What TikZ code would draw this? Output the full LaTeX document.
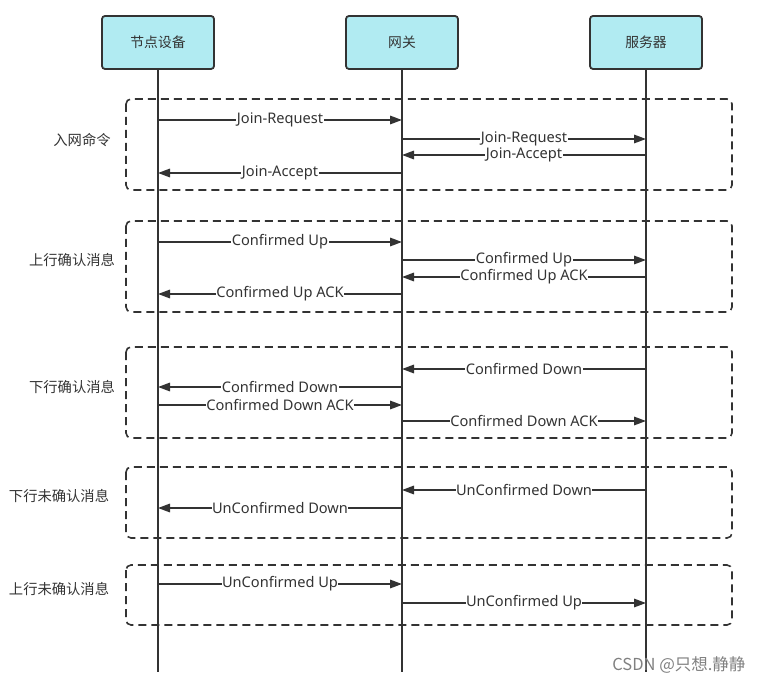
\documentclass[tikz,border=0pt]{standalone}
\usepackage{fontspec}
\setmainfont{Noto Sans}
\newfontfamily\cjk{Noto Sans CJK SC}
\usetikzlibrary{arrows.meta}
\definecolor{ink}{HTML}{333333}
\definecolor{boxfill}{HTML}{B1EBF2}
\tikzset{
  actor/.style={draw=ink, line width=1.8pt, fill=boxfill, rounded corners=3pt,
    minimum width=112pt, minimum height=53pt, font=\cjk\fontsize{13.8}{15}\selectfont, text=ink},
  lifeline/.style={draw=ink, line width=1.8pt},
  group/.style={draw=ink, line width=1.6pt, dash pattern=on 8pt off 5pt, rounded corners=5pt},
  msg/.style={draw=ink, line width=1.6pt, -{Triangle[length=12pt,width=8.5pt]}},
  lbl/.style={fill=white, inner sep=0.5pt, font=\fontsize{14.6}{15}\selectfont, text=ink},
  glabel/.style={font=\cjk\fontsize{14.3}{15}\selectfont, text=ink},
}
\newcommand{\seqmsg}[4]{\draw[msg] (#1 |- 0,#3) -- node[lbl]{#4} (#2 |- 0,#3);}
\begin{document}
\begin{tikzpicture}[x=1pt,y=-1pt]
\useasboundingbox (0,0) rectangle (757,684);
% lifelines
\coordinate (la) at (158,672);
\coordinate (lb) at (402,672);
\coordinate (lc) at (646,672);
\node[actor] (A) at (158,42.5) {节点设备};
\node[actor] (B) at (402,42.5) {网关};
\node[actor] (C) at (646,42.5) {服务器};
\draw[lifeline] (A.south) -- (la);
\draw[lifeline] (B.south) -- (lb);
\draw[lifeline] (C.south) -- (lc);
% groups
\draw[group] (126,99) rectangle (732,190);
\draw[group] (126,221) rectangle (732,312);
\draw[group] (126,347) rectangle (732,438);
\draw[group] (126,467) rectangle (732,538);
\draw[group] (126,565) rectangle (732,625);
\node[glabel] (g1) at (82,140) {入网命令};
\node[glabel] (g2) at (72,260) {上行确认消息};
\node[glabel] (g3) at (72,387) {下行确认消息};
\node[glabel] (g4) at (59,496) {下行未确认消息};
\node[glabel] (g5) at (59,589) {上行未确认消息};
% messages
\seqmsg{A}{B}{120}{Join-Request}
\seqmsg{B}{C}{139}{Join-Request}
\seqmsg{C}{B}{155}{Join-Accept}
\seqmsg{B}{A}{173}{Join-Accept}
\seqmsg{A}{B}{242}{Confirmed Up}
\seqmsg{B}{C}{260}{Confirmed Up}
\seqmsg{C}{B}{277}{Confirmed Up ACK}
\seqmsg{B}{A}{294}{Confirmed Up ACK}
\seqmsg{C}{B}{369}{Confirmed Down}
\seqmsg{B}{A}{387}{Confirmed Down}
\seqmsg{A}{B}{405}{Confirmed Down ACK}
\seqmsg{B}{C}{421}{Confirmed Down ACK}
\seqmsg{C}{B}{490}{UnConfirmed Down}
\seqmsg{B}{A}{508}{UnConfirmed Down}
\seqmsg{A}{B}{584}{UnConfirmed Up}
\seqmsg{B}{C}{603}{UnConfirmed Up}
% watermark text
\node[font=\cjk\fontsize{16.5}{17}\selectfont, text=black!50, anchor=east] (wm) at (749,665) {CSDN @只想.静静};
\end{tikzpicture}
\end{document}
